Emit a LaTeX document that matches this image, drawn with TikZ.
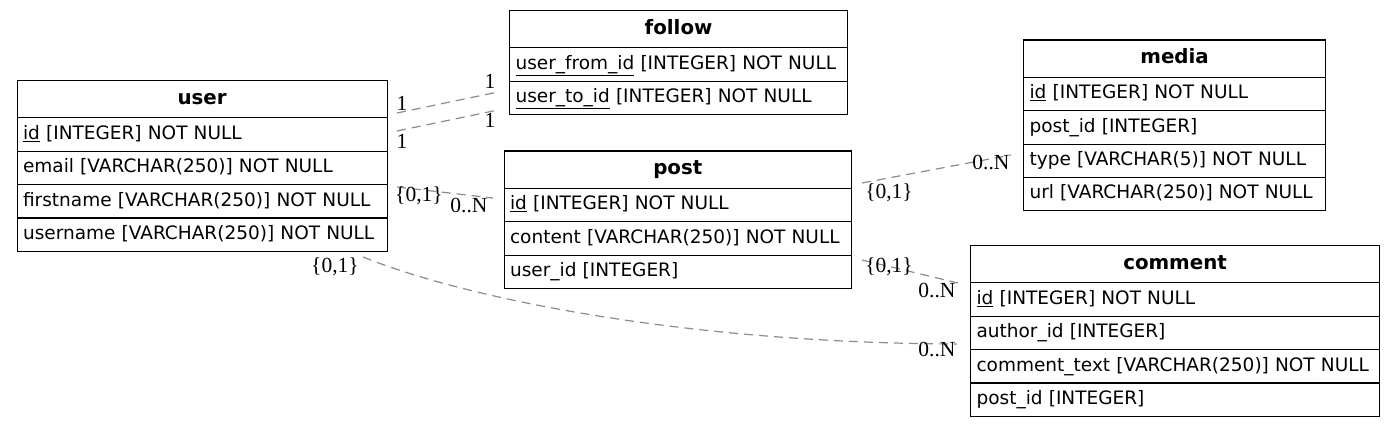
\documentclass[tikz,border=0pt]{standalone}
\usepackage{fontspec}
\setmainfont{DejaVu Sans}
\newfontfamily\lblfont{Liberation Serif}
\begin{document}
\begin{tikzpicture}[x=1pt,y=-1pt,
  tbl/.style={draw=black, line width=1.1pt, anchor=north west, inner xsep=6pt, inner ysep=0pt, text height=13.5pt, text depth=4pt, font=\fontsize{18.5}{22}\selectfont},
  hdr/.style={tbl, minimum height=37.3pt, align=center, text height=14.5pt, font=\fontsize{19.8}{23}\selectfont\bfseries},
  fld/.style={tbl, minimum height=33.4pt, align=left},
  rel/.style={draw=gray!90, line width=1.2pt, dash pattern=on 9pt off 6pt},
  card/.style={font=\lblfont\fontsize{21.5}{24}\selectfont, inner sep=0pt}
]
\fill[white] (0,0) rectangle (1395,427);
\useasboundingbox (0,0) rectangle (1395,427);

% user
\node[hdr, text width=358pt] (user) at (16.5,80) {user};
\node[fld, text width=358pt] (user-id) at (16.5,117.3) {\mbox{\underline{id} [INTEGER] NOT NULL}};
\node[fld, text width=358pt] (user-email) at (16.5,150.7) {\mbox{email [VARCHAR(250)] NOT NULL}};
\node[fld, text width=358pt] (user-first) at (16.5,184.1) {\mbox{firstname [VARCHAR(250)] NOT NULL}};
\node[fld, text width=358pt] (user-name) at (16.5,217.5) {\mbox{username [VARCHAR(250)] NOT NULL}};

% follow
\node[hdr, text width=326pt] (follow) at (509,10) {follow};
\node[fld, text width=326pt] (follow-from) at (509,47.3) {\mbox{\underline{user\_from\_id} [INTEGER] NOT NULL}};
\node[fld, text width=326pt] (follow-to) at (509,80.7) {\mbox{\underline{user\_to\_id} [INTEGER] NOT NULL}};

% post
\node[hdr, text width=335.5pt] (post) at (503.5,150.5) {post};
\node[fld, text width=335.5pt] (post-id) at (503.5,187.8) {\mbox{\underline{id} [INTEGER] NOT NULL}};
\node[fld, text width=335.5pt] (post-content) at (503.5,221.2) {\mbox{content [VARCHAR(250)] NOT NULL}};
\node[fld, text width=335.5pt] (post-user) at (503.5,254.6) {\mbox{user\_id [INTEGER]}};

% media
\node[hdr, text width=290pt] (media) at (1023,39.5) {media};
\node[fld, text width=290pt] (media-id) at (1023,76.8) {\mbox{\underline{id} [INTEGER] NOT NULL}};
\node[fld, text width=290pt] (media-post) at (1023,110.2) {\mbox{post\_id [INTEGER]}};
\node[fld, text width=290pt] (media-type) at (1023,143.6) {\mbox{type [VARCHAR(5)] NOT NULL}};
\node[fld, text width=290pt] (media-url) at (1023,177) {\mbox{url [VARCHAR(250)] NOT NULL}};

% comment
\node[hdr, text width=397pt] (comment) at (970,245) {comment};
\node[fld, text width=397pt] (comment-id) at (970,282.3) {\mbox{\underline{id} [INTEGER] NOT NULL}};
\node[fld, text width=397pt] (comment-author) at (970,315.7) {\mbox{author\_id [INTEGER]}};
\node[fld, text width=397pt] (comment-text) at (970,349.1) {\mbox{comment\_text [VARCHAR(250)] NOT NULL}};
\node[fld, text width=397pt] (comment-post) at (970,382.5) {\mbox{post\_id [INTEGER]}};

% connector ends
\coordinate (e1a) at (397,113);  \coordinate (e1b) at (498,92);
\coordinate (e2a) at (397,131);  \coordinate (e2b) at (498,110);
\coordinate (e3a) at (397,187);  \coordinate (e3b) at (493,198);
\coordinate (e4a) at (862,183);  \coordinate (e4b) at (1011,155);
\coordinate (e5a) at (862,260);  \coordinate (e5b) at (958,283);
\coordinate (e6a) at (363,257);  \coordinate (e6b) at (957,344);

\draw[rel] (e1a) -- (e1b);
\draw[rel] (e2a) -- (e2b);
\draw[rel] (e3a) -- (e3b);
\draw[rel] (e4a) -- (e4b);
\draw[rel] (e5a) -- (e5b);
\draw[rel] (e6a) .. controls (470,300) and (690,343) .. (e6b);

% cardinalities
\node[card] (c1a) at (402,103) {1};
\node[card] (c1b) at (490,81) {1};
\node[card] (c2a) at (402,141) {1};
\node[card] (c2b) at (490,120) {1};
\node[card] (c3a) at (419,196) {\{0,1\}};
\node[card] (c3b) at (469,206) {0..N};
\node[card] (c4a) at (889,193) {\{0,1\}};
\node[card] (c4b) at (991,163) {0..N};
\node[card] (c5a) at (889,267) {\{0,1\}};
\node[card] (c5b) at (937,291) {0..N};
\node[card] (c6a) at (335,267) {\{0,1\}};
\node[card] (c6b) at (937,350) {0..N};
\end{tikzpicture}
\end{document}
